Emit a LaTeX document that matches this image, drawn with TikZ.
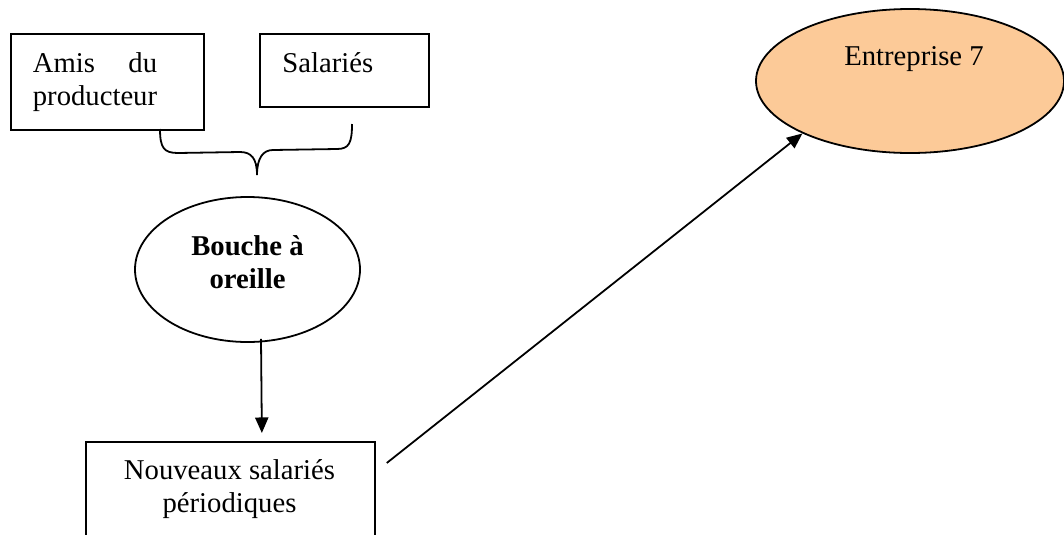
\documentclass[tikz,border=0pt]{standalone}
\usepackage{fontspec}
\setmainfont{Liberation Serif}
\usetikzlibrary{shapes.geometric,arrows.meta,calc}
\definecolor{peach}{RGB}{252,202,152}
\begin{document}
\begin{tikzpicture}[x=0.4184pt,y=-0.4184pt,
  every node/.style={font=\fontsize{12}{13.8}\selectfont},
  boxnode/.style={draw=black,line width=0.75pt,rectangle,inner sep=0pt,anchor=north west},
  ovalnode/.style={draw=black,line width=0.75pt,ellipse,inner sep=0pt},
  txt/.style={inner sep=0pt},
  boldtxt/.style={inner sep=0pt,font=\fontsize{12}{13.8}\selectfont\bfseries},
  conn/.style={draw=black,line width=0.75pt,-{Triangle[length=6.5pt,width=5.5pt]}},
  bracestyle/.style={draw=black,line width=0.75pt}]
\useasboundingbox (0,0) rectangle (1064,534);
\clip (0,0) rectangle (1064,534);
\fill[white] (0,0) rectangle (1064,534);

% boxes
\node[boxnode, minimum height=40.17pt, text width=62.3pt, inner xsep=9.2pt, align=left] (amis) at (10,33)
  {\hbox to 52pt{Amis\hfill du}\\producteur};
\node[boxnode, minimum width=70.71pt, minimum height=30.54pt] (sal) at (259,33) {};
\node[txt, anchor=base west] (salt) at (282,72) {Salariés};

% brace
\draw[bracestyle] (160,129) .. controls (160,148) and (164,153) .. (178,153)
  -- (240,152) .. controls (251,152) and (257,158) .. (257,175)
  .. controls (257,158) and (263,150) .. (273,150)
  -- (337,149) .. controls (349,149) and (352,143) .. (352,124);

% bouche a oreille
\node[ovalnode, minimum width=94.14pt, minimum height=60.67pt] (bouche) at (247.5,269.5) {};
\node[boldtxt, align=center] (boucht) at (247.5,262) {Bouche à\\oreille};

% nouveaux salaries
\node[boxnode, minimum width=120.9pt, minimum height=50pt] (nouv) at (85,441) {};
\node[txt, align=center] (nouvt) at (229.5,489) {Nouveaux salariés\\périodiques};

% entreprise 7
\node[ovalnode, fill=peach, minimum width=128.87pt, minimum height=60.25pt] (ent) at (910,81) {};
\node[txt, anchor=base] (entt) at (914,65) {Entreprise 7};

% connectors
\draw[conn] ($(bouche.south)+(13.5,-4)$) -- ($(nouv.north)+(31.5,-8)$);
\coordinate (lstart) at ($(nouv.north east)+(11,22)$);
\draw[conn] (lstart) -- (ent.206);
\end{tikzpicture}
\end{document}
